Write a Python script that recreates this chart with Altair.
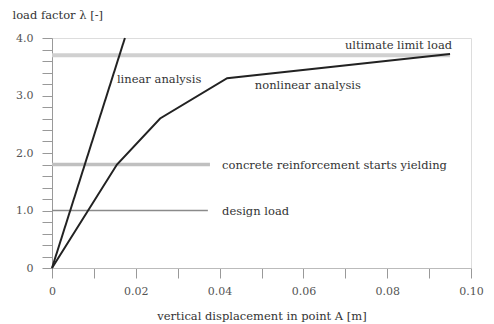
import altair as alt
import pandas as pd

# curves
linear_x = [0.0, 0.0174]
linear_y = [0.0, 4.0]
nonlinear_x = [0.0, 0.0155, 0.0258, 0.0418, 0.095]
nonlinear_y = [0.0, 1.8, 2.6, 3.3, 3.72]

# horizontal reference lines
ref_names = ["ultimate", "yield", "design"]
ref_y = [3.7, 1.8, 1.0]
ref_x_end = [0.095, 0.0377, 0.0372]

# annotations
ann_text = ["ultimate limit load", "linear analysis", "nonlinear analysis",
            "concrete reinforcement starts yielding", "design load"]
ann_x = [0.0955, 0.0155, 0.0484, 0.0406, 0.0406]
ann_y = [3.86, 3.27, 3.17, 1.77, 0.97]
ann_align = ["right", "left", "left", "left", "left"]

y_ticks = [round(i * 0.2, 1) for i in range(21)]
x_ticks = [round(i * 0.01, 2) for i in range(11)]

curves = pd.DataFrame(
    [{"s": "linear", "o": i, "x": a, "y": b} for i, (a, b) in enumerate(zip(linear_x, linear_y))]
    + [{"s": "nonlinear", "o": i, "x": a, "y": b} for i, (a, b) in enumerate(zip(nonlinear_x, nonlinear_y))]
)
refs = pd.DataFrame({"name": ref_names, "y": ref_y, "x0": [0.0] * 3, "x1": ref_x_end})
ann = pd.DataFrame({"t": ann_text, "x": ann_x, "y": ann_y, "a": ann_align})

font = "DejaVu Serif"
fs = 11.5

xs = alt.Scale(domain=[0, 0.1], nice=False)
ys = alt.Scale(domain=[0, 4], nice=False)

xaxis = alt.Axis(
    values=x_ticks, tickCount=30,
    labelExpr="(round(datum.value*100) % 2 == 0) ? (datum.value == 0 ? '0' : format(datum.value, '.2f')) : ''",
    title="vertical displacement in point A [m]",
    grid=False, tickSize=10, domainColor="#bbbbbb", tickColor="#999999",
    labelFont=font, labelFontSize=11, labelColor="#555555", labelPadding=7,
    labelOverlap=False, labelFlush=False,
    titleFont=font, titleFontSize=fs, titleFontWeight="normal", titleColor="#333333",
    titleY=48, titleBaseline="middle",
)
yaxis = alt.Axis(
    values=y_ticks, tickCount=40,
    labelExpr="(abs(datum.value - round(datum.value)) < 0.001) ? (datum.value == 0 ? '0' : format(datum.value, '.1f')) : ''",
    title="load factor λ [-]",
    grid=False, tickSize=10, domainColor="#999999", tickColor="#999999",
    labelFont=font, labelFontSize=11, labelColor="#555555", labelPadding=9,
    labelOverlap=False, labelFlush=False,
    titleFont=font, titleFontSize=fs, titleFontWeight="normal", titleColor="#333333",
    titleAngle=0, titleX=-40, titleY=-23, titleAlign="left", titleBaseline="middle",
)

X = lambda f: alt.X(f, scale=xs, axis=xaxis)
Y = lambda f: alt.Y(f, scale=ys, axis=yaxis)

ref_styles = {"ultimate": ("#d0d0d0", 4), "yield": ("#c0c0c0", 3.5), "design": ("#8a8a8a", 1.3)}
ref_layers = [
    alt.Chart(refs[refs.name == n]).mark_rule(color=c, strokeWidth=w).encode(
        x=X("x0:Q"), x2="x1:Q", y=Y("y:Q"))
    for n, (c, w) in ref_styles.items()
]

line_layer = alt.Chart(curves).mark_line(color="#222222", strokeWidth=2).encode(
    x=X("x:Q"),
    y=Y("y:Q"),
    detail="s:N",
    order="o:Q",
)

text_right = alt.Chart(ann[ann.a == "right"]).mark_text(align="right", baseline="middle", font=font, fontSize=fs, color="#333333").encode(
    x=X("x:Q"), y=Y("y:Q"), text="t:N")
text_left = alt.Chart(ann[ann.a == "left"]).mark_text(align="left", baseline="middle", font=font, fontSize=fs, color="#333333").encode(
    x=X("x:Q"), y=Y("y:Q"), text="t:N")

chart = alt.layer(*ref_layers, line_layer, text_right, text_left).properties(
    width=419, height=230,
    autosize=alt.AutoSizeParams(type="none"),
    padding={"left": 44, "top": 30, "right": 15, "bottom": 56},
).configure_view(stroke="#cccccc", strokeWidth=1).configure(background="white", font=font)

chart.save("out.html", embed_options={"renderer": "svg", "actions": False})
